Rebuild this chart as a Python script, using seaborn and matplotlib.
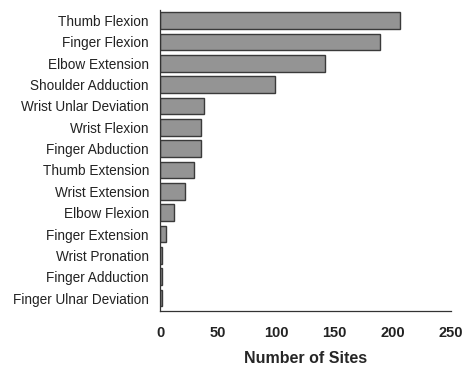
import matplotlib
matplotlib.use("Agg")
import matplotlib.pyplot as plt
import seaborn as sns
import pandas as pd

# data
movements = ["Thumb Flexion", "Finger Flexion", "Elbow Extension", "Shoulder Adduction",
             "Wrist Unlar Deviation", "Wrist Flexion", "Finger Abduction", "Thumb Extension",
             "Wrist Extension", "Elbow Flexion", "Finger Extension", "Wrist Pronation",
             "Finger Adduction", "Finger Ulnar Deviation"]
sites = [206, 189, 142, 99, 38, 35, 35, 29, 21, 12, 5, 2, 2, 2]
x_ticks = [0, 50, 100, 150, 200, 250]

sns.set_theme(style="white")
plt.rcParams['font.family'] = ['Liberation Sans', 'DejaVu Sans']

df = pd.DataFrame({"Movement": movements, "Sites": sites})

fig = plt.figure(figsize=(4.64, 3.67), dpi=100)
ax = fig.add_axes([0.345, 0.153, 0.627, 0.82])

sns.barplot(data=df, x="Sites", y="Movement", ax=ax, color="#949494",
            edgecolor="#3a3a3a", linewidth=1.0, width=0.78, saturation=1)

ax.set_xlim(0, 250)
ax.set_ylim(13.6, -0.5)
ax.set_xticks(x_ticks)
ax.set_xticklabels([str(t) for t in x_ticks], fontsize=10.5, fontweight="bold", color="#222222")
ax.tick_params(axis="x", direction="out", length=4, width=0.8, color="#333333", pad=7)
ax.tick_params(axis="y", length=0, labelsize=9.8, labelcolor="#222222", pad=8)
ax.set_xlabel("Number of Sites", fontsize=11.5, fontweight="bold", labelpad=8)
ax.set_ylabel("")

for side in ["top", "right"]:
    ax.spines[side].set_visible(False)
for side in ["left", "bottom"]:
    ax.spines[side].set_color("#333333")
    ax.spines[side].set_linewidth(0.9)

fig.savefig("out.png", dpi=100)
